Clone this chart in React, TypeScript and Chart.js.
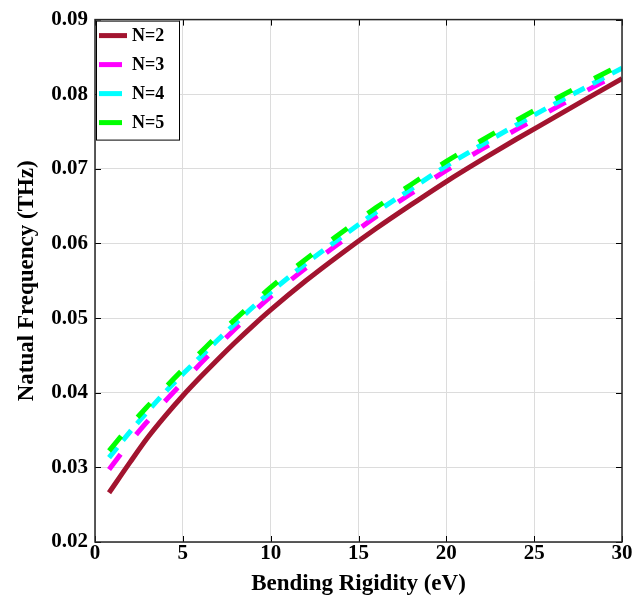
import React, { useEffect, useRef } from "react";
import { Chart, registerables } from "chart.js";

Chart.register(...registerables);

const rigidity = [0.8, 2, 3, 4, 5, 6, 7, 8, 9, 10, 12, 14, 16, 18, 20, 22, 24, 26, 28, 30];
const freqN2 = [0.0266, 0.0307, 0.034, 0.0369, 0.0396, 0.0421, 0.0445, 0.0468, 0.049, 0.0511, 0.055, 0.0586, 0.062, 0.0652, 0.0683, 0.0712, 0.074, 0.0767, 0.0794, 0.0821];
const freqN3 = [0.0297, 0.0334, 0.0362, 0.0389, 0.0414, 0.0439, 0.0463, 0.0486, 0.0508, 0.0529, 0.0567, 0.0602, 0.0636, 0.0667, 0.0698, 0.0726, 0.0753, 0.0779, 0.0805, 0.083];
const freqN4 = [0.0313, 0.0348, 0.0375, 0.0401, 0.0425, 0.0448, 0.0471, 0.0493, 0.0515, 0.0535, 0.0573, 0.0608, 0.0642, 0.0673, 0.0704, 0.0732, 0.0759, 0.0785, 0.081, 0.0835];
const freqN5 = [0.0322, 0.0356, 0.0382, 0.0407, 0.0431, 0.0454, 0.0477, 0.0499, 0.052, 0.0541, 0.0579, 0.0614, 0.0648, 0.0679, 0.071, 0.0738, 0.0765, 0.0791, 0.0816, 0.084];
const seriesLabels = ["N=2", "N=3", "N=4", "N=5"];
const xTitle = "Bending Rigidity (eV)";
const yTitle = "Natual Frequency (THz)";

const FONT = "'Liberation Serif', 'Times New Roman', serif";
const colors = ["#A2142F", "#FF00FF", "#00FFFF", "#00FF00"];
const dashes: number[][] = [[], [19, 25], [13, 9], [19, 25]];

const boxPlugin = {
  id: "boxPlugin",
  afterDraw(chart: any) {
    const { ctx, chartArea: a, scales } = chart;
    ctx.save();
    ctx.strokeStyle = "#000";
    ctx.lineWidth = 1;
    const tl = 6;
    scales.x.ticks.forEach((t: any) => {
      const px = Math.round(scales.x.getPixelForValue(t.value)) + 0.5;
      ctx.beginPath();
      ctx.moveTo(px, a.bottom);
      ctx.lineTo(px, a.bottom - tl);
      ctx.moveTo(px, a.top);
      ctx.lineTo(px, a.top + tl);
      ctx.stroke();
    });
    scales.y.ticks.forEach((t: any) => {
      const py = Math.round(scales.y.getPixelForValue(t.value)) + 0.5;
      ctx.beginPath();
      ctx.moveTo(a.left, py);
      ctx.lineTo(a.left + tl, py);
      ctx.moveTo(a.right, py);
      ctx.lineTo(a.right - tl, py);
      ctx.stroke();
    });
    ctx.strokeStyle = "#262626";
    ctx.lineWidth = 1.5;
    ctx.strokeRect(a.left, a.top, a.right - a.left, a.bottom - a.top);

    const lx = a.left + 1;
    const ly = a.top + 1;
    const lw = 83;
    const lh = 119;
    ctx.fillStyle = "#fff";
    ctx.fillRect(lx, ly, lw, lh);
    ctx.strokeStyle = "#000";
    ctx.lineWidth = 1;
    ctx.strokeRect(lx + 0.5, ly + 0.5, lw, lh);
    chart.data.datasets.forEach((ds: any, i: number) => {
      const cy = ly + 15 + i * 29;
      ctx.strokeStyle = ds.borderColor;
      ctx.lineWidth = 5;
      ctx.setLineDash([]);
      ctx.beginPath();
      ctx.moveTo(lx + 3, cy);
      ctx.lineTo(lx + (i === 0 ? 31 : 26), cy);
      ctx.stroke();
      ctx.fillStyle = "#000";
      ctx.font = `bold 18px ${FONT}`;
      ctx.textBaseline = "middle";
      ctx.textAlign = "left";
      ctx.fillText(ds.label, lx + 36, cy + 1);
    });
    ctx.restore();
  },
};

export default function App() {
  const ref = useRef<HTMLCanvasElement | null>(null);
  useEffect(() => {
    document.body.style.margin = "0";
    const series = [freqN2, freqN3, freqN4, freqN5];
    const chart = new Chart(ref.current as HTMLCanvasElement, {
      type: "line",
      data: {
        datasets: series.map((s, i) => ({
          label: seriesLabels[i],
          data: rigidity.map((x, j) => ({ x, y: s[j] })),
          borderColor: colors[i],
          backgroundColor: colors[i],
          borderWidth: 5,
          borderDash: dashes[i],
          borderCapStyle: "butt",
          pointRadius: 0,
          fill: false,
          tension: 0.4,
          cubicInterpolationMode: "monotone",
          order: 3 - i,
        })),
      },
      options: {
        responsive: false,
        animation: false,
        devicePixelRatio: 1,
        layout: { padding: { top: 17, right: 22, left: 0, bottom: 0 } },
        plugins: { legend: { display: false }, tooltip: { enabled: false } },
        scales: {
          x: {
            type: "linear",
            min: 0,
            max: 30,
            afterFit: (s: any) => {
              s.height = 62;
            },
            ticks: {
              stepSize: 5,
              padding: 1,
              color: "#000",
              font: { family: FONT, size: 21, weight: "bold", lineHeight: 1 },
            },
            grid: { color: "#dcdcdc", lineWidth: 1, drawTicks: false },
            border: { display: false },
            title: {
              display: true,
              text: xTitle,
              color: "#000",
              padding: { top: 0, bottom: 6 },
              font: { family: FONT, size: 23, weight: "bold" },
            },
          },
          y: {
            type: "linear",
            min: 0.02,
            max: 0.09,
            afterFit: (s: any) => {
              s.width = 95;
            },
            ticks: {
              stepSize: 0.01,
              padding: 7,
              color: "#000",
              callback: (v: any) => Number(v).toFixed(2),
              font: { family: FONT, size: 21, weight: "bold" },
            },
            grid: { color: "#dcdcdc", lineWidth: 1, drawTicks: false },
            border: { display: false },
            title: {
              display: true,
              text: yTitle,
              color: "#000",
              padding: { top: 13, bottom: 0 },
              font: { family: FONT, size: 23, weight: "bold" },
            },
          },
        },
      },
      plugins: [boxPlugin],
    } as any);
    return () => chart.destroy();
  }, []);
  return <canvas ref={ref} width={644} height={604} style={{ display: "block" }} />;
}
